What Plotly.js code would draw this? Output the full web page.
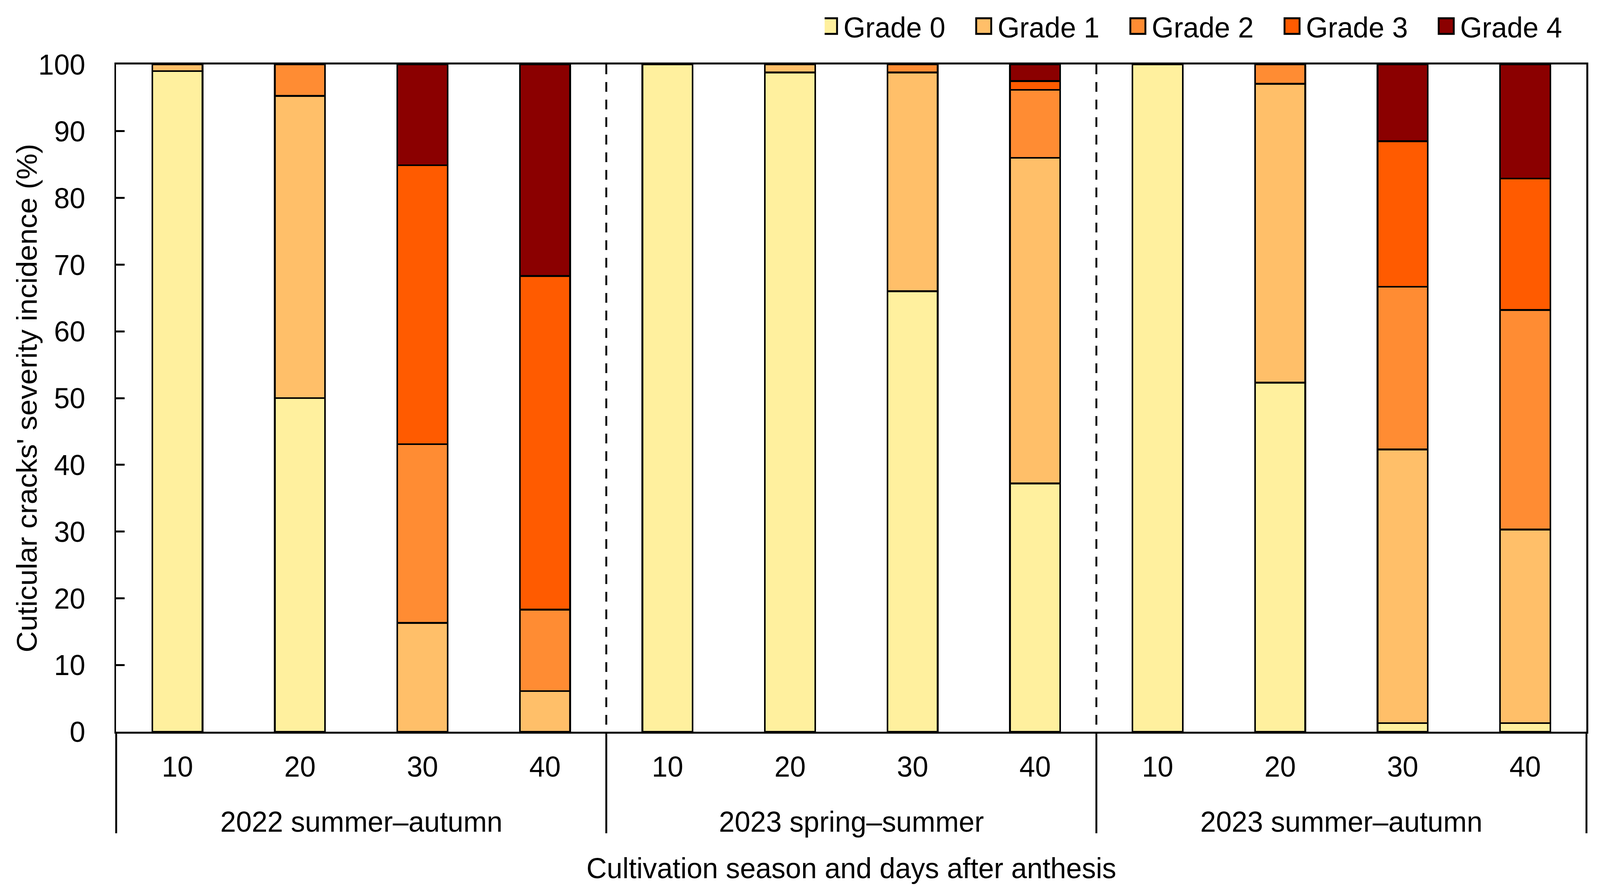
<!DOCTYPE html>
<html>
<head>
<meta charset="utf-8">
<script src="https://cdn.plot.ly/plotly-3.0.1.min.js"></script>
<style>
  html, body { margin: 0; padding: 0; background: #fff; overflow: hidden; }
  #chart { width: 4255px; height: 2291px; transform-origin: 0 0; }
</style>
</head>
<body>
<div id="chart"></div>
<script>
// categories: outer level = cultivation season, inner level = days after anthesis
const seasons = [
  '2022 summer–autumn', '2022 summer–autumn', '2022 summer–autumn', '2022 summer–autumn',
  '2023 spring–summer', '2023 spring–summer', '2023 spring–summer', '2023 spring–summer',
  '2023 summer–autumn', '2023 summer–autumn', '2023 summer–autumn', '2023 summer–autumn'
];
const days = ['10', '20', '30', '40', '10', '20', '30', '40', '10', '20', '30', '40'];

// % of fruits per severity grade (null = none)
const grade0 = [99.0, 50.0, null, null, 100, 98.8, 66.0, 37.2, 100, 52.3, 1.3, 1.3];
const grade1 = [1.0, 45.3, 16.3, 6.1, null, 1.2, 32.8, 48.8, null, 44.8, 41.0, 29.0];
const grade2 = [null, 4.7, 26.8, 12.2, null, null, 1.2, 10.2, null, 2.9, 24.4, 32.9];
const grade3 = [null, null, 41.8, 50.0, null, null, null, 1.3, null, null, 21.8, 19.7];
const grade4 = [null, null, 15.1, 31.7, null, null, null, 2.5, null, null, 11.5, 17.1];

const gradeNames = ['Grade 0', 'Grade 1', 'Grade 2', 'Grade 3', 'Grade 4'];
const gradeColors = ['#FFF09E', '#FFBF69', '#FF8C33', '#FF5B00', '#8B0000'];
const gradeValues = [grade0, grade1, grade2, grade3, grade4];

// the page is drawn at the reference size and squeezed to the window width
var W = 4255, H = 2291;
var chartDiv = document.getElementById('chart');
var sx = Math.min(1, window.innerWidth / W);
chartDiv.style.transform = 'scale(' + sx + ',1)';

// one unique category per bar; the axis shows the day, the season goes underneath
const cats = seasons.map(function (s, i) { return s + ' | ' + days[i]; });
const seasonNames = ['2022 summer–autumn', '2023 spring–summer', '2023 summer–autumn'];

var data = gradeValues.map(function (vals, i) {
  return {
    x: cats,
    y: vals,
    type: 'bar',
    name: gradeNames[i],
    marker: { color: gradeColors[i], line: { color: '#000', width: 4.5 } }
  };
});

var font = { family: 'Liberation Sans, Arial, sans-serif', size: 75, color: '#000' };
var margin = { l: 309, r: 34, t: 165, b: 418 };
var plotW = W - margin.l - margin.r;
var plotH = H - margin.t - margin.b;

var shapes = [4 / 12, 8 / 12].map(function (p) {
  return {
    type: 'line', xref: 'paper', yref: 'paper',
    x0: p, x1: p, y0: 1, y1: 0,
    line: { color: '#000', width: 5, dash: '25px,20px' }
  };
});
[0, 4 / 12, 8 / 12, 1].forEach(function (p) {
  shapes.push({
    type: 'line', xref: 'paper', yref: 'paper',
    x0: p, x1: p, y0: 0, y1: -260 / plotH,
    line: { color: '#000', width: 5 }
  });
});

var annotations = seasonNames.map(function (s) {
  var idx = seasons.indexOf(s);
  return {
    text: s, xref: 'x', yref: 'paper',
    x: idx + 1.5, y: -230 / plotH,
    xanchor: 'center', yanchor: 'middle',
    showarrow: false, font: font
  };
});
annotations.push({
  text: "Cuticular cracks' severity incidence (%)",
  xref: 'paper', yref: 'paper',
  x: -(margin.l - 72) / plotW, y: 0.5,
  xanchor: 'center', yanchor: 'middle',
  textangle: -90, showarrow: false, font: font
});

var layout = {
  width: W,
  height: H,
  barmode: 'stack',
  bargap: 0.59,
  font: font,
  paper_bgcolor: '#fff',
  plot_bgcolor: '#fff',
  margin: margin,
  showlegend: true,
  legend: {
    orientation: 'h',
    x: (2194 - margin.l) / plotW, xanchor: 'left',
    y: 1 + 98 / plotH, yanchor: 'middle',
    traceorder: 'normal',
    font: font,
    itemwidth: 40,
    entrywidth: 355
  },
  xaxis: {
    type: 'category',
    showline: true, linecolor: '#000', linewidth: 5, mirror: true,
    ticks: '',
    tickvals: cats, ticktext: days,
    ticklabelstandoff: 20,
    showgrid: false,
    tickfont: font,
    title: { text: 'Cultivation season and days after anthesis', font: font, standoff: 194 }
  },
  yaxis: {
    range: [0, 100],
    dtick: 10,
    showline: true, linecolor: '#000', linewidth: 5, mirror: true,
    ticks: 'inside', ticklen: 22, tickwidth: 5, tickcolor: '#000',
    ticklabelstandoff: 62,
    showgrid: false, zeroline: false,
    tickfont: font
  },
  shapes: shapes,
  annotations: annotations
};

// bigger legend swatches, like the reference, with a small gap before the text
function bigSwatches() {
  chartDiv.querySelectorAll('.legend .legendpoints path').forEach(function (p) {
    p.setAttribute('d', 'M8,20H-32V-20H8Z');
    p.style.strokeWidth = '5px';
  });
}

Plotly.newPlot(chartDiv, data, layout, { displayModeBar: false, staticPlot: true }).then(function (gd) {
  bigSwatches();
  gd.on('plotly_afterplot', bigSwatches);
  setTimeout(bigSwatches, 200);
});
</script>
</body>
</html>
